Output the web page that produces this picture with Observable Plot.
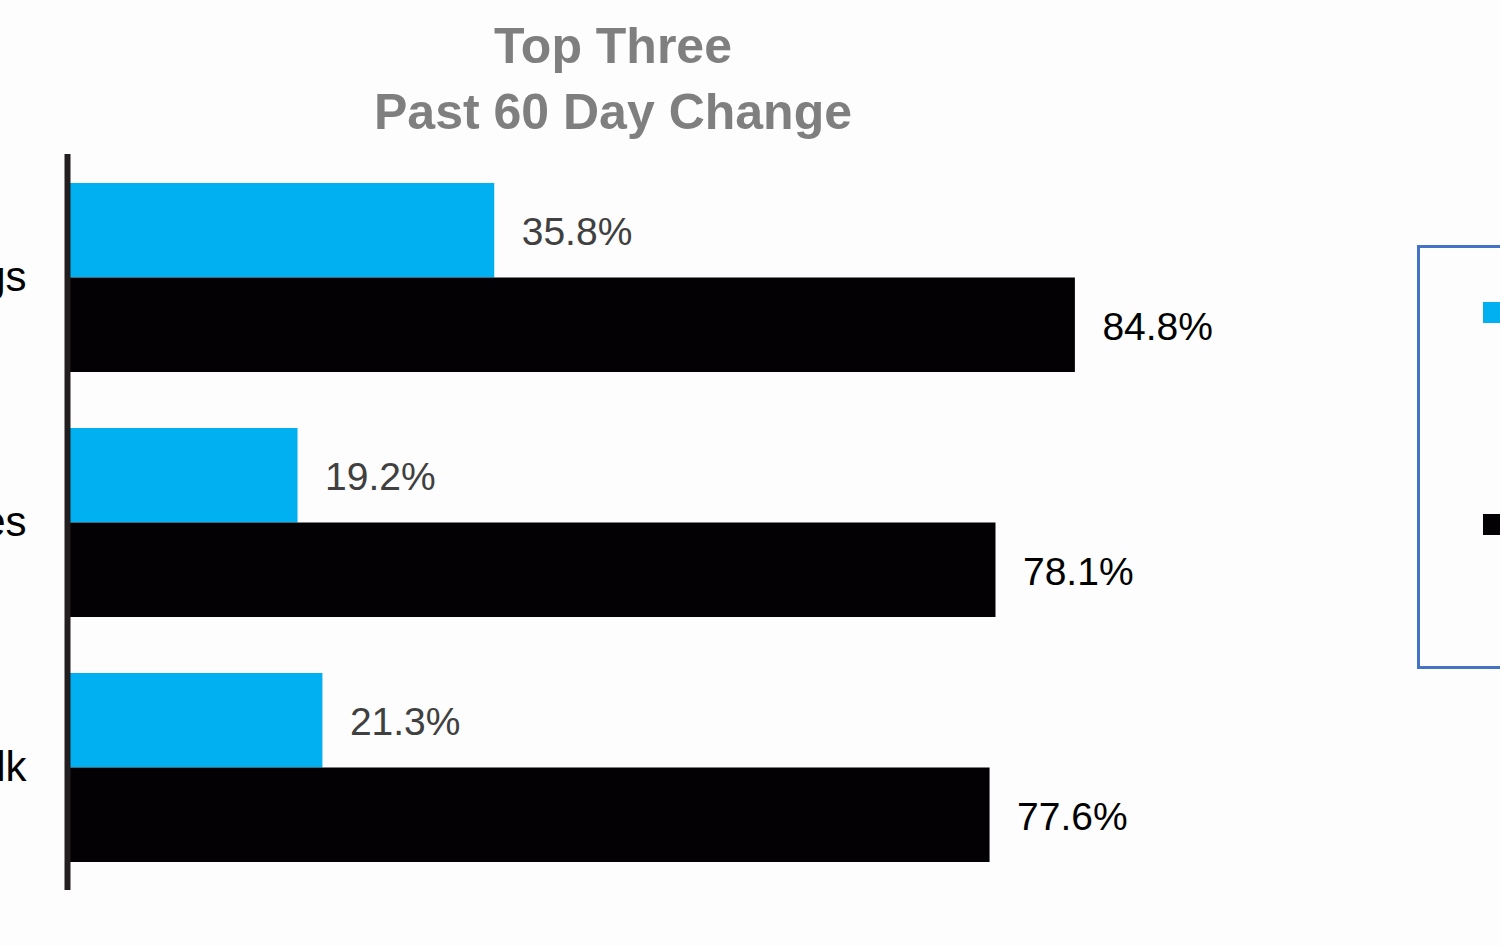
<!DOCTYPE html>
<html>
<head>
<meta charset="utf-8">
<script src="https://cdn.jsdelivr.net/npm/d3@7"></script>
<script src="https://cdn.jsdelivr.net/npm/@observablehq/plot@0.6"></script>
<style>
  html, body { margin: 0; padding: 0; width: 1500px; height: 946px; overflow: hidden; background: #fcfdfc; }
  #wrap { position: relative; width: 1500px; height: 946px; overflow: hidden; }
  #title { position: absolute; left: 313px; top: 13px; width: 600px; text-align: center;
           font-family: "Liberation Sans", Arial, sans-serif; font-weight: bold; font-size: 50px;
           line-height: 66px; color: #7f7f7f; z-index: 2; }
  #chart { position: absolute; left: 0; top: 0; }
  #legend { position: absolute; left: 1417px; top: 245px; width: 400px; height: 418px;
            border: 3px solid #4472c4; font-family: "Liberation Sans", Arial, sans-serif;
            font-size: 30px; color: #000; z-index: 2; }
  .item { position: absolute; left: 63px; display: flex; align-items: center; white-space: nowrap; }
  .sw { display: inline-block; width: 21px; height: 21px; margin-right: 14px; }
</style>
</head>
<body>
<div id="wrap">
  <div id="title">Top Three<br>Past 60 Day Change</div>
  <div id="chart"></div>
  <div id="legend"></div>
</div>
<script>
const categories = ["Eggs", "Potatoes", "Milk"];
const seriesNames = ["Previous 60 Days", "Past 60 Days"];
const seriesColors = ["#00b0f0", "#030104"];
const labelColors = ["#404040", "#000000"];
const previousValues = [35.8, 19.2, 21.3];
const pastValues = [84.8, 78.1, 77.6];

const rows = [];
categories.forEach((c, i) => {
  rows.push({category: c, series: seriesNames[0], value: previousValues[i]});
  rows.push({category: c, series: seriesNames[1], value: pastValues[i]});
});
const s0 = rows.filter(d => d.series === seriesNames[0]);
const s1 = rows.filter(d => d.series === seriesNames[1]);

const half = 189 / 2;

const chart = Plot.plot({
  width: 1500,
  height: 946,
  marginLeft: 70,
  marginRight: 245,
  marginTop: 154,
  marginBottom: 56,
  style: {background: "transparent", fontFamily: "'Liberation Sans', Arial, sans-serif", fontSize: "42px", color: "#000", overflow: "visible"},
  x: {domain: [0, 100], axis: null},
  y: {domain: categories, paddingInner: 56 / 245, paddingOuter: 28.5 / 245, axis: null},
  marks: [
    Plot.barX(s0, {x: "value", y: "category", fill: seriesColors[0], insetBottom: half}),
    Plot.barX(s1, {x: "value", y: "category", fill: seriesColors[1], insetTop: half}),
    Plot.ruleX([0], {stroke: "#231f20", strokeWidth: 6, dx: -3}),
    Plot.text(s0, {x: "value", y: "category", text: d => d.value.toFixed(1) + "%", textAnchor: "start", dx: 27, dy: -half / 2 + 2, fontSize: 39, fill: labelColors[0]}),
    Plot.text(s1, {x: "value", y: "category", text: d => d.value.toFixed(1) + "%", textAnchor: "start", dx: 27, dy: half / 2 + 2, fontSize: 39, fill: labelColors[1]}),
    Plot.axisY({tickSize: 0, tickPadding: 44, label: null, fontSize: 42, fill: "#000"})
  ]
});
document.getElementById("chart").appendChild(chart);

const legend = document.getElementById("legend");
const tops = [47, 259];
seriesNames.forEach((name, i) => {
  const item = document.createElement("div");
  item.className = "item";
  item.style.top = tops[i] + "px";
  const sw = document.createElement("span");
  sw.className = "sw";
  sw.style.background = seriesColors[i];
  item.appendChild(sw);
  item.appendChild(document.createTextNode(name));
  legend.appendChild(item);
});
</script>
</body>
</html>
